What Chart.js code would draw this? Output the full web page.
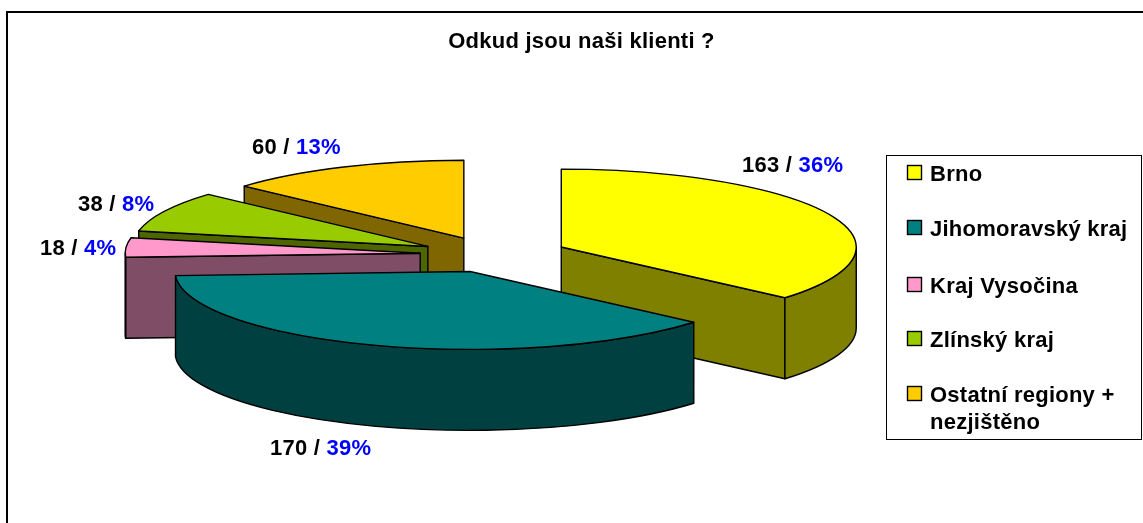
<!DOCTYPE html>
<html>
<head>
<meta charset="utf-8">
<style>
    html, body { margin: 0; padding: 0; background: #fff; overflow: hidden; }
    canvas { display: block; }
</style>
<script src="https://cdn.jsdelivr.net/npm/chart.js@4"></script>
</head>
<body>
<canvas id="pie" width="1143" height="523"></canvas>
<script>
var titleText = 'Odkud jsou naši klienti ?';
var regions = ['Brno', 'Jihomoravský kraj', 'Kraj Vysočina', 'Zlínský kraj', 'Ostatní regiony +\nnezjištěno'];
var clients = [163, 170, 18, 38, 60];
var percents = ['36%', '39%', '4%', '8%', '13%']; // jak je to v originale, neni to presne z dat

var topColors = ['#ffff00', '#008080', '#ff99cc', '#99cc00', '#ffcc00'];
var sideColors = ['#808000', '#004040', '#804d66', '#4d6600', '#806600'];

// rozlozeni obrazku
var font = '"Liberation Sans", Arial, sans-serif';
var textSize = 22;
var pieX = 494, pieY = 254.5, pieRadius = 295, squash = 0.264, depth = 81;
var explode = 74, explodeSquash = 0.243;
var labelPos = [[742, 166], [270, 449], [40, 249], [78, 205], [252, 148]];
var legendBox = { x: 886.5, y: 155.5, w: 255, h: 284 };
var legendRows = [172.5, 227.5, 284.5, 338.5, 393.5];

function sliceCenter(arc) {
    var mid = (arc.startAngle + arc.endAngle) / 2;
    return {
	x: pieX + Math.cos(mid) * explode,
	y: pieY + Math.sin(mid) * explode * explodeSquash
    };
}

function drawFace(ctx, c, angle, fill) {
    var px = c.x + Math.cos(angle) * pieRadius;
    var py = c.y + Math.sin(angle) * pieRadius * squash;
    ctx.beginPath();
    ctx.moveTo(c.x, c.y);
    ctx.lineTo(px, py);
    ctx.lineTo(px, py + depth);
    ctx.lineTo(c.x, c.y + depth);
    ctx.closePath();
    ctx.fillStyle = fill;
    ctx.fill();
    ctx.stroke();
}

function drawRim(ctx, c, from, to, fill) {
    var ry = pieRadius * squash;
    ctx.beginPath();
    ctx.ellipse(c.x, c.y, pieRadius, ry, 0, from, to);
    ctx.ellipse(c.x, c.y + depth, pieRadius, ry, 0, to, from, true);
    ctx.closePath();
    ctx.fillStyle = fill;
    ctx.fill();
    ctx.stroke();
}

function drawSlice(ctx, arc, i) {
    var c = sliceCenter(arc);
    var start = arc.startAngle, end = arc.endAngle;
    ctx.save();
    ctx.strokeStyle = '#000';
    ctx.lineWidth = 1.4;
    ctx.lineJoin = 'round';

    // boky, jen ty co jsou videt
    if (Math.cos(start) < -0.001) drawFace(ctx, c, start, sideColors[i]);
    if (Math.cos(end) > 0.001) drawFace(ctx, c, end, sideColors[i]);
    var from = Math.max(start, 0), to = Math.min(end, Math.PI);
    if (to > from) drawRim(ctx, c, from, to, sideColors[i]);

    // vrch kresli samotny arc element, jen zplosteny
    ctx.save();
    ctx.translate(c.x, c.y);
    ctx.scale(1, squash);
    ctx.translate(-arc.x, -arc.y);
    arc.draw(ctx);
    ctx.restore();

    ctx.beginPath();
    ctx.moveTo(c.x, c.y);
    ctx.ellipse(c.x, c.y, pieRadius, pieRadius * squash, 0, start, end);
    ctx.closePath();
    ctx.stroke();
    ctx.restore();
}

function drawLabel(ctx, i) {
    var text = clients[i] + ' / ';
    var x = labelPos[i][0], y = labelPos[i][1];
    ctx.font = 'bold ' + textSize + 'px ' + font;
    ctx.textAlign = 'left';
    ctx.textBaseline = 'middle';
    ctx.fillStyle = '#000';
    ctx.fillText(text, x, y);
    ctx.fillStyle = '#0000ff';
    ctx.fillText(percents[i], x + ctx.measureText(text).width, y);
}

function drawLegend(ctx) {
    ctx.strokeStyle = '#000';
    ctx.lineWidth = 1;
    ctx.fillStyle = '#fff';
    ctx.fillRect(legendBox.x, legendBox.y, legendBox.w, legendBox.h);
    ctx.strokeRect(legendBox.x, legendBox.y, legendBox.w, legendBox.h);
    ctx.font = 'bold ' + textSize + 'px ' + font;
    ctx.textAlign = 'left';
    ctx.textBaseline = 'middle';
    regions.forEach((name, i) => {
	var y = legendRows[i];
	ctx.fillStyle = topColors[i];
	ctx.fillRect(907.5, y - 7, 14, 14);
	ctx.strokeStyle = '#000';
	ctx.lineWidth = 1.4;
	ctx.strokeRect(907.5, y - 7, 14, 14);
	ctx.fillStyle = '#000';
	name.split('\n').forEach((line, k) => {
	    ctx.fillText(line, 930, y + 2 + k * 27);
	});
    });
}

var pie3d = {
    id: 'pie3d',
    beforeDraw(chart) {
	// puvodni text je trochu rozvolneny
	chart.ctx.letterSpacing = '0.25px';
    },
    beforeDatasetDraw(chart, args) {
	var ctx = chart.ctx;
	var order = args.meta.data.map((arc, i) => i);
	// odzadu dopredu, at se prekryvaji spravne
	order.sort((a, b) => sliceCenter(args.meta.data[a]).y - sliceCenter(args.meta.data[b]).y);
	order.forEach((i) => drawSlice(ctx, args.meta.data[i], i));
	return false;
    },
    afterDraw(chart) {
	var ctx = chart.ctx;
	ctx.save();
	ctx.strokeStyle = '#000';
	ctx.lineWidth = 2;
	ctx.beginPath();
	ctx.moveTo(7, 523);
	ctx.lineTo(7, 12);
	ctx.lineTo(1143, 12);
	ctx.stroke();
	clients.forEach((v, i) => drawLabel(ctx, i));
	drawLegend(ctx);
	ctx.restore();
    }
};

var chart = new Chart(document.getElementById('pie'), {
    type: 'pie',
    data: {
	labels: regions,
	datasets: [{
	    data: clients,
	    backgroundColor: topColors,
	    borderWidth: 0,
	    clip: false
	}]
    },
    options: {
	responsive: false,
	animation: false,
	radius: pieRadius,
	layout: { padding: { left: 20 } },
	plugins: {
	    legend: { display: false },
	    tooltip: { enabled: false },
	    title: {
		display: true,
		text: titleText,
		color: '#000',
		font: { family: font, size: textSize, weight: 'bold' },
		padding: { top: 29, bottom: 10 }
	    }
	}
    },
    plugins: [pie3d]
});
</script>
</body>
</html>
